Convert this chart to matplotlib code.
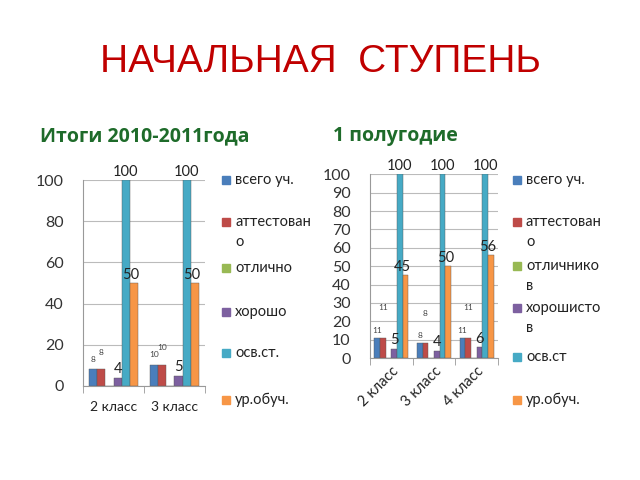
import numpy as np
import matplotlib.pyplot as plt

# data
series_left = ['всего уч.', 'аттестовано', 'отлично', 'хорошо', 'осв.ст.', 'ур.обуч.']
legend_left = ['всего уч.', 'аттестован\nо', 'отлично', 'хорошо', 'осв.ст.', 'ур.обуч.']
classes_left = ['2 класс', '3 класс']
values_left = [
    [8, 10],
    [8, 10],
    [0, 0],
    [4, 5],
    [100, 100],
    [50, 50],
]

series_right = ['всего уч.', 'аттестовано', 'отличников', 'хорошистов', 'осв.ст', 'ур.обуч.']
legend_right = ['всего уч.', 'аттестован\nо', 'отличнико\nв', 'хорошисто\nв', 'осв.ст', 'ур.обуч.']
classes_right = ['2 класс', '3 класс', '4 класс']
values_right = [
    [11, 8, 11],
    [11, 8, 11],
    [0, 0, 0],
    [5, 4, 6],
    [100, 100, 100],
    [45, 50, 56],
]

colors = ['#4a7ebb', '#be4b48', '#98b954', '#7d60a0', '#46aac5', '#f79646']
font = ['Lato', 'DejaVu Sans']


def draw_chart(ax, classes, values, yticks, small_offs):
    n = len(values)
    w = 0.8 / n
    x = np.arange(len(classes))
    for i, vals in enumerate(values):
        pos = x - 0.4 + w * (i + 0.5)
        ax.bar(pos, vals, width=w, color=colors[i], edgecolor='#555555', linewidth=0.3)
        for p, v in zip(pos, vals):
            if i == 2:
                continue
            if i in (0, 1):
                ax.annotate(str(v), (p, v), xytext=(0, small_offs[i]), textcoords='offset points',
                            ha='center', va='bottom', fontsize=6, color='#444444', family=font)
            else:
                ax.annotate(str(v), (p, v), xytext=(-2 if i == 5 else 0, 1), textcoords='offset points',
                            ha='center', va='bottom', fontsize=10.5, color='#222222', family=font)
    ax.set_xlim(-0.5, len(classes) - 0.5)
    ax.set_ylim(0, 100)
    ax.set_yticks(yticks)
    ax.yaxis.grid(True, color='#bbbbbb', linewidth=0.8)
    ax.set_axisbelow(True)
    for s in ['top', 'right']:
        ax.spines[s].set_visible(False)
    for s in ['left', 'bottom']:
        ax.spines[s].set_color('#999999')
    ax.tick_params(axis='y', length=0, labelsize=11.5, colors='#333333', pad=14)
    ax.set_xticks(x)
    ax.set_xticklabels(classes)
    ax.set_xticks(np.arange(len(classes) + 1) - 0.5, minor=True)
    ax.tick_params(axis='x', which='major', length=0, pad=11, labelsize=10, colors='#222222')
    ax.tick_params(axis='x', which='minor', length=5, color='#999999')
    for lab in ax.get_xticklabels() + ax.get_yticklabels():
        lab.set_family(font)


fig = plt.figure(figsize=(6.4, 4.8), dpi=100)

fig.text(0.5, 0.87, 'НАЧАЛЬНАЯ  СТУПЕНЬ', ha='center', va='center', fontsize=28,
         color='#c00000', family=['Liberation Sans', 'DejaVu Sans'])
fig.text(0.062, 0.716, 'Итоги 2010-2011года', ha='left', va='center', fontsize=14,
         fontweight='bold', color='#1e6b2a', family=['Open Sans', 'DejaVu Sans'])
fig.text(0.52, 0.716, '1 полугодие', ha='left', va='center', fontsize=14,
         fontweight='bold', color='#1e6b2a', family=['Open Sans', 'DejaVu Sans'])

ax1 = fig.add_axes([0.130, 0.196, 0.190, 0.429])
draw_chart(ax1, classes_left, values_left, [0, 20, 40, 60, 80, 100], (5, 10))

ax2 = fig.add_axes([0.578, 0.254, 0.200, 0.383])
draw_chart(ax2, classes_right, values_right, list(range(0, 101, 10)), (3, 19))
for lab in ax2.get_xticklabels():
    lab.set_rotation(45)
    lab.set_ha('right')
    lab.set_rotation_mode('anchor')
ax2.tick_params(axis='x', which='major', pad=4, labelsize=10.5)

# legends drawn as text with squares
leg_y_left = [180, 232, 268, 312, 353, 400]
for lab, c, yy in zip(legend_left, colors, leg_y_left):
    yf = 1 - yy / 480
    first = yf if '\n' not in lab else 1 - (yy - 10) / 480
    fig.patches.append(plt.Rectangle((222 / 640, first - 0.009), 0.0125, 0.0167, color=c,
                                     transform=fig.transFigure, figure=fig))
    fig.text(235 / 640, yf, lab, ha='left', va='center', fontsize=10.5, color='#222222',
             family=font, linespacing=1.6)

leg_y_right = [180, 232, 276, 318, 357, 400]
for lab, c, yy in zip(legend_right, colors, leg_y_right):
    yf = 1 - yy / 480
    first = yf if '\n' not in lab else 1 - (yy - 10) / 480
    fig.patches.append(plt.Rectangle((513 / 640, first - 0.009), 0.0125, 0.0167, color=c,
                                     transform=fig.transFigure, figure=fig))
    fig.text(526 / 640, yf, lab, ha='left', va='center', fontsize=10.5, color='#222222',
             family=font, linespacing=1.6)

fig.savefig('out.png', dpi=100)
